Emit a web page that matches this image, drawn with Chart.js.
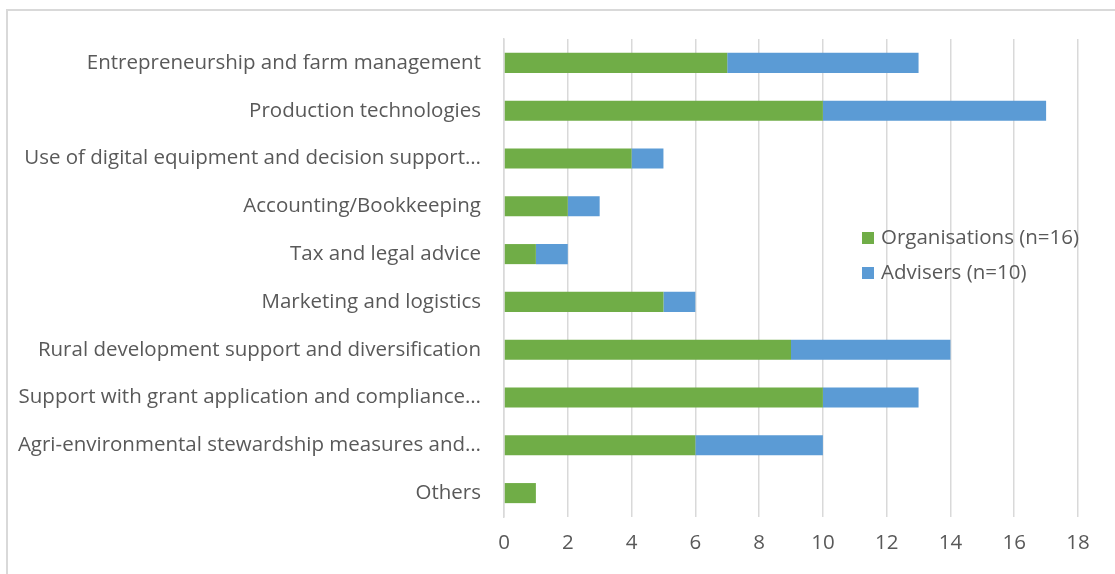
<!DOCTYPE html>
<html>
<head>
<meta charset="utf-8">
<script src="https://cdn.jsdelivr.net/npm/chart.js@4"></script>
<style>
    html, body { margin: 0; padding: 0; background: #fff; overflow: hidden; }
    #frame { position: absolute; left: 6px; top: 9px; width: 1200px; height: 700px; border: 2px solid #d9d9d9; box-sizing: border-box; }
    #wrap { position: absolute; left: 0; top: 0; width: 1115px; height: 574px; }
</style>
</head>
<body>
<div id="frame"></div>
<div id="wrap"><canvas id="grafico" width="1115" height="574"></canvas></div>
<script>
const categorias = [
    'Entrepreneurship and farm management',
    'Production technologies',
    'Use of digital equipment and decision support\u2026',
    'Accounting/Bookkeeping',
    'Tax and legal advice',
    'Marketing and logistics',
    'Rural development support and diversification',
    'Support with grant application and compliance\u2026',
    'Agri-environmental stewardship measures and\u2026',
    'Others'
];
const organisacoes = [7, 10, 4, 2, 1, 5, 9, 10, 6, 1];
const conselheiros = [6, 7, 1, 1, 1, 1, 5, 3, 4, 0];
const ticksX = [0, 2, 4, 6, 8, 10, 12, 14, 16, 18];

const fonte = '"Open Sans", Lato, sans-serif';
const tamanho = 20.5;
const corTexto = '#595959';

// legenda desenhada dentro da área do gráfico
const legendaInterna = {
    id: 'legendaInterna',
    afterDraw(chart) {
        const ctx = chart.ctx;
        ctx.save();
        ctx.font = tamanho + 'px ' + fonte;
        ctx.textBaseline = 'middle';
        chart.data.datasets.forEach(function (ds, i) {
            const y = 238 + i * 35;
            ctx.fillStyle = ds.backgroundColor;
            ctx.fillRect(862, y - 6, 12, 12);
            ctx.fillStyle = corTexto;
            ctx.fillText(ds.label, 881, y);
        });
        ctx.restore();
    }
};

const ctx = document.getElementById('grafico').getContext('2d');
new Chart(ctx, {
    type: 'bar',
    data: {
        labels: categorias,
        datasets: [{
            label: 'Organisations (n=16)',
            data: organisacoes,
            backgroundColor: '#70ad47',
            barPercentage: 0.42,
            categoryPercentage: 1
        }, {
            label: 'Advisers (n=10)',
            data: conselheiros,
            backgroundColor: '#5b9bd5',
            barPercentage: 0.42,
            categoryPercentage: 1
        }]
    },
    options: {
        indexAxis: 'y',
        responsive: false,
        animation: false,
        layout: { padding: { top: 39, right: 37, left: 0, bottom: 0 } },
        plugins: {
            legend: { display: false },
            tooltip: { enabled: false }
        },
        scales: {
            x: {
                stacked: true,
                min: 0,
                max: 18,
                afterBuildTicks: function (axis) {
                    axis.ticks = ticksX.map(v => ({ value: v }));
                },
                afterFit: function (axis) { axis.height = 57; },
                grid: { color: '#d9d9d9', lineWidth: 1.5, drawTicks: false },
                border: { display: false },
                ticks: { color: corTexto, font: { family: fonte, size: tamanho }, padding: 14 }
            },
            y: {
                stacked: true,
                afterFit: function (axis) { axis.width = 504; },
                grid: { display: false },
                border: { color: '#d9d9d9', width: 1.5 },
                ticks: { color: corTexto, font: { family: fonte, size: tamanho }, padding: 15, autoSkip: false }
            }
        }
    },
    plugins: [legendaInterna]
});
</script>
</body>
</html>
